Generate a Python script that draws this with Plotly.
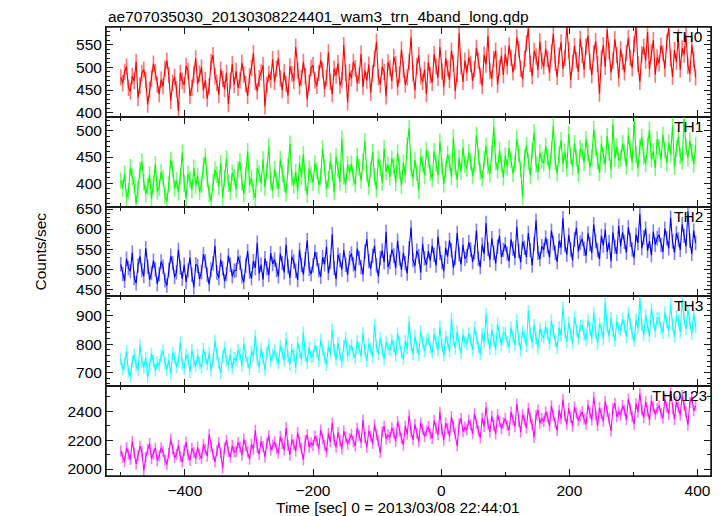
import plotly.graph_objects as go
from plotly.subplots import make_subplots

title_text = "ae707035030_20130308224401_wam3_trn_4band_long.qdp"
x_title = "Time [sec] 0 = 2013/03/08 22:44:01"
y_title = "Counts/sec"
band_names = ["TH0", "TH1", "TH2", "TH3", "TH0123"]
band_colors = ["#ff0000", "#00ff00", "#0000ff", "#00ffff", "#ff00ff"]
err_colors = ["rgba(255,0,0,0.55)", "rgba(0,255,0,0.55)", "rgba(0,0,255,0.5)",
              "rgba(0,255,255,0.55)", "rgba(255,0,255,0.55)"]

# bin start times (3 s bins)
time_sec = list(range(-500, 400, 3))

th0 = [
    478, 465, 490, 502, 455, 447, 481, 470, 512, 433, 460, 488, 495, 472, 418, 451, 476, 508, 489, 462,
    441, 473, 458, 497, 515, 483, 426, 466, 479, 452, 404, 488, 470, 461, 503, 492, 437, 455, 484, 520,
    463, 486, 500, 449, 472, 431, 458, 512, 527, 480, 466, 440, 495, 474, 452, 488, 419, 470, 507, 461,
    492, 455, 471, 510, 484, 463, 437, 480, 499, 531, 468, 447, 476, 489, 505, 414, 462, 485, 473, 518,
    468, 497, 521, 476, 450, 489, 463, 438, 502, 485, 470, 545, 493, 458, 477, 512, 481, 430, 466, 499,
    505, 471, 459, 488, 516, 494, 452, 476, 533, 468, 441, 497, 482, 509, 460, 472, 549, 488, 423, 490,
    476, 512, 498, 465, 482, 530, 457, 493, 471, 506, 444, 487, 519, 556, 478, 462, 501, 490, 436, 511,
    498, 470, 523, 507, 456, 484, 539, 495, 462, 478, 512, 566, 487, 449, 503, 527, 481, 468, 495, 441,
    511, 483, 466, 529, 502, 477, 545, 491, 456, 520, 498, 472, 537, 509, 448, 486, 575, 503, 468, 515,
    488, 522, 507, 470, 496, 543, 515, 481, 459, 528, 506, 569, 492, 475, 518, 537, 462, 499, 526, 483,
    530, 503, 548, 521, 489, 512, 566, 540, 497, 474, 519, 553, 586, 508, 481, 536, 524, 495, 557, 514,
    502, 541, 519, 488, 533, 574, 510, 479, 526, 555, 497, 521, 593, 538, 472, 509, 547, 516, 490, 563,
    527, 495, 546, 570, 512, 483, 531, 558, 507, 442, 520, 549, 501, 583, 536, 489, 515, 562, 527, 476,
    540, 512, 489, 532, 565, 521, 498, 551, 590, 507, 468, 529, 545, 515, 578, 496, 533, 560, 484, 522,
    509, 548, 531, 497, 556, 587, 520, 479, 538, 512, 566, 495, 542, 528, 571, 503, 486, 549, 517, 478,
]

th1 = [
    405, 390, 418, 372, 384, 430, 412, 396, 361, 388, 425, 441, 402, 379, 394, 416, 370, 399, 436, 384,
    392, 421, 409, 376, 365, 398, 444, 427, 390, 405, 382, 413, 458, 399, 371, 418, 406, 387, 429, 395,
    414, 383, 397, 433, 451, 408, 380, 366, 402, 425, 416, 393, 438, 372, 409, 447, 399, 384, 420, 411,
    388, 426, 441, 402, 379, 415, 461, 397, 410, 383, 372, 429, 418, 400, 445, 392, 424, 470, 403, 386,
    427, 404, 389, 446, 418, 399, 381, 432, 475, 410, 396, 421, 385, 438, 412, 455, 401, 378, 427, 416,
    401, 438, 424, 395, 412, 466, 430, 389, 407, 442, 419, 383, 451, 426, 402, 485, 413, 397, 436, 420,
    437, 411, 398, 452, 430, 405, 441, 480, 418, 393, 426, 459, 412, 388, 447, 429, 401, 466, 422, 435,
    412, 447, 433, 401, 458, 424, 395, 439, 416, 472, 505, 428, 409, 444, 420, 386, 451, 437, 415, 463,
    446, 420, 408, 461, 438, 415, 479, 432, 398, 427, 455, 440, 412, 487, 431, 406, 448, 422, 468, 435,
    428, 459, 441, 414, 436, 492, 450, 422, 409, 446, 471, 433, 418, 457, 508, 440, 425, 463, 437, 411,
    452, 430, 467, 445, 418, 438, 485, 456, 427, 374, 449, 472, 441, 415, 462, 497, 436, 421, 458, 444,
    438, 471, 449, 425, 463, 510, 441, 419, 455, 482, 437, 460, 428, 494, 452, 431, 476, 448, 418, 466,
    461, 439, 484, 457, 430, 449, 503, 468, 442, 420, 475, 451, 436, 490, 459, 425, 512, 447, 470, 443,
    447, 476, 458, 432, 491, 464, 440, 519, 455, 428, 469, 488, 451, 437, 473, 502, 446, 461, 429, 484,
    469, 445, 492, 463, 438, 477, 456, 510, 432, 466, 488, 452, 441, 522, 470, 448, 481, 459, 436, 473,
]

th2 = [
    512, 488, 471, 526, 503, 495, 541, 478, 465, 509, 532, 497, 483, 552, 506, 474, 490, 521, 499, 463,
    487, 519, 506, 472, 459, 498, 533, 515, 480, 492, 548, 504, 476, 511, 468, 497, 529, 486, 455, 512,
    508, 475, 493, 537, 520, 486, 462, 499, 514, 558, 491, 478, 523, 502, 470, 488, 534, 511, 482, 496,
    497, 531, 516, 482, 468, 509, 545, 494, 477, 520, 503, 566, 489, 511, 474, 527, 502, 485, 540, 513,
    524, 498, 482, 539, 515, 492, 561, 507, 478, 531, 519, 496, 473, 548, 510, 487, 525, 572, 501, 488,
    509, 543, 525, 497, 481, 530, 512, 556, 490, 518, 587, 503, 475, 536, 522, 499, 547, 511, 486, 528,
    539, 512, 496, 551, 528, 505, 487, 544, 575, 520, 501, 533, 558, 509, 482, 527, 546, 517, 593, 505,
    518, 549, 534, 503, 571, 527, 498, 541, 515, 489, 552, 604, 522, 508, 546, 532, 491, 563, 527, 511,
    545, 521, 558, 536, 509, 581, 540, 518, 495, 553, 531, 572, 547, 503, 528, 590, 537, 512, 561, 526,
    533, 567, 549, 518, 542, 596, 526, 505, 561, 538, 615, 550, 523, 577, 541, 514, 556, 583, 530, 548,
    562, 539, 520, 574, 551, 528, 606, 545, 517, 569, 553, 530, 590, 548, 509, 563, 621, 541, 525, 557,
    548, 579, 557, 530, 596, 565, 541, 518, 571, 554, 627, 560, 536, 585, 549, 522, 574, 603, 544, 566,
    575, 551, 533, 589, 562, 540, 612, 570, 547, 525, 583, 559, 598, 543, 567, 520, 591, 556, 538, 608,
    557, 592, 568, 541, 604, 573, 549, 528, 586, 565, 638, 552, 579, 601, 546, 570, 535, 594, 561, 577,
    586, 560, 543, 601, 577, 552, 628, 569, 541, 590, 574, 548, 612, 583, 557, 644, 571, 538, 596, 565,
]

th3 = [
    748, 712, 731, 775, 702, 688, 740, 763, 725, 710, 796, 738, 719, 752, 684, 729, 766, 741, 707, 735,
    726, 759, 778, 734, 711, 745, 695, 769, 752, 720, 741, 806, 730, 714, 763, 748, 702, 780, 739, 723,
    761, 733, 718, 784, 752, 729, 770, 707, 745, 812, 766, 735, 698, 757, 789, 742, 726, 764, 716, 751,
    742, 779, 765, 724, 801, 758, 737, 713, 774, 760, 829, 746, 721, 785, 752, 709, 770, 798, 740, 763,
    778, 750, 733, 795, 768, 744, 821, 757, 729, 781, 762, 718, 806, 773, 747, 842, 761, 735, 788, 755,
    759, 796, 774, 742, 815, 781, 753, 728, 792, 768, 851, 779, 746, 805, 764, 737, 794, 823, 760, 777,
    797, 768, 751, 812, 786, 760, 839, 775, 742, 801, 784, 756, 868, 793, 766, 821, 779, 748, 809, 785,
    780, 816, 793, 759, 838, 802, 771, 748, 812, 786, 879, 798, 765, 828, 791, 762, 846, 806, 776, 814,
    819, 788, 771, 836, 806, 779, 862, 797, 760, 826, 808, 775, 890, 817, 786, 845, 801, 768, 834, 809,
    801, 838, 814, 780, 859, 822, 790, 766, 835, 808, 905, 819, 785, 851, 813, 782, 872, 826, 796, 840,
    840, 808, 791, 858, 827, 798, 885, 817, 779, 846, 829, 795, 917, 838, 806, 867, 822, 787, 855, 830,
    824, 862, 837, 801, 883, 846, 812, 788, 859, 831, 930, 843, 808, 876, 837, 804, 896, 849, 819, 865,
    866, 833, 815, 884, 852, 821, 912, 842, 803, 872, 855, 818, 948, 862, 829, 893, 847, 812, 881, 856,
    849, 889, 863, 826, 911, 872, 838, 812, 886, 857, 962, 869, 833, 903, 864, 829, 924, 876, 845, 893,
    893, 859, 841, 912, 879, 847, 941, 868, 828, 899, 882, 843, 957, 889, 855, 921, 874, 837, 908, 862,
]

th0123 = [
    2125, 2080, 2051, 2148, 2103, 2066, 2190, 2112, 2035, 2094, 2158, 2120, 1990, 2082, 2133, 2176, 2071, 2104, 2146, 2058,
    2090, 2147, 2122, 2063, 2031, 2110, 2205, 2138, 2079, 2101, 2164, 2085, 2049, 2128, 2186, 2097, 2060, 2143, 2115, 2072,
    2150, 2098, 2072, 2171, 2136, 2089, 2238, 2154, 2101, 2050, 2127, 2183, 2110, 2008, 2145, 2199, 2120, 2081, 2162, 2117,
    2121, 2184, 2153, 2096, 2205, 2160, 2118, 2067, 2172, 2137, 2268, 2149, 2102, 2190, 2155, 2083, 2178, 2230, 2131, 2166,
    2188, 2140, 2109, 2224, 2176, 2131, 2285, 2162, 2097, 2203, 2170, 2124, 2252, 2185, 2141, 2064, 2197, 2238, 2150, 2181,
    2163, 2229, 2196, 2138, 2270, 2210, 2164, 2118, 2245, 2188, 2317, 2201, 2150, 2253, 2193, 2139, 2262, 2222, 2172, 2209,
    2240, 2191, 2160, 2283, 2231, 2182, 2338, 2218, 2150, 2264, 2226, 2176, 2305, 2240, 2195, 2112, 2258, 2296, 2207, 2237,
    2218, 2284, 2251, 2190, 2327, 2262, 2213, 2166, 2296, 2240, 2370, 2255, 2201, 2309, 2247, 2189, 2318, 2275, 2225, 2262,
    2293, 2244, 2211, 2335, 2282, 2236, 2392, 2271, 2199, 2318, 2280, 2226, 2361, 2294, 2248, 2160, 2312, 2349, 2258, 2290,
    2270, 2338, 2305, 2243, 2382, 2316, 2265, 2214, 2351, 2294, 2425, 2310, 2256, 2364, 2301, 2242, 2374, 2330, 2279, 2318,
    2350, 2300, 2267, 2394, 2341, 2292, 2449, 2329, 2255, 2376, 2338, 2284, 2420, 2352, 2306, 2218, 2371, 2408, 2316, 2349,
    2326, 2393, 2361, 2298, 2437, 2370, 2318, 2265, 2406, 2348, 2478, 2364, 2310, 2419, 2356, 2296, 2428, 2385, 2333, 2372,
    2395, 2344, 2310, 2441, 2387, 2338, 2496, 2375, 2300, 2423, 2384, 2331, 2467, 2398, 2352, 2263, 2418, 2455, 2361, 2394,
    2371, 2438, 2406, 2341, 2482, 2415, 2362, 2310, 2451, 2393, 2521, 2408, 2355, 2464, 2400, 2339, 2473, 2430, 2378, 2417,
    2437, 2386, 2351, 2483, 2428, 2379, 2535, 2416, 2342, 2465, 2426, 2372, 2508, 2440, 2394, 2305, 2459, 2497, 2402, 2435,
]

series = [th0, th1, th2, th3, th0123]
band_errors = [18, 16, 18, 22, 38]
y_ranges = [[391, 589], [355, 527], [432, 656], [652, 969], [1952, 2572]]
y_major = [50, 50, 50, 100, 200]
y_minor = [10, 10, 10, 20, 100]
label_shift = [-6, -6, -6, -6, -2]
x_range = [-523, 421]

FONT = "Liberation Sans, Arial, Helvetica, sans-serif"
FS = 15.5
AX = "#1a1a1a"

fig = make_subplots(rows=5, cols=1, shared_xaxes=True, vertical_spacing=0)

for i, (vals, col, ecol, err) in enumerate(zip(series, band_colors, err_colors, band_errors)):
    fig.add_trace(go.Scatter(
        x=time_sec, y=vals, mode="lines",
        line=dict(color=col, width=1.1),
        error_y=dict(type="constant", value=err, color=ecol, thickness=1.6, width=0),
        showlegend=False, hoverinfo="skip"), row=i + 1, col=1)
    fig.update_yaxes(
        range=y_ranges[i], dtick=y_major[i], tick0=0,
        showline=True, linecolor=AX, linewidth=1, mirror="ticks",
        ticks="inside", ticklen=7, tickwidth=1, tickcolor=AX,
        minor=dict(ticks="inside", ticklen=4, dtick=y_minor[i], tick0=0, tickcolor=AX),
        showgrid=False, zeroline=False,
        tickfont=dict(family=FONT, size=FS, color="black"),
        row=i + 1, col=1)
    fig.update_xaxes(
        range=x_range, dtick=200, tick0=0,
        showline=True, linecolor=AX, linewidth=1, mirror="ticks",
        ticks="inside", ticklen=7, tickwidth=1, tickcolor=AX,
        minor=dict(ticks="inside", ticklen=4, dtick=100, tick0=0, tickcolor=AX),
        showgrid=False, zeroline=False,
        tickfont=dict(family=FONT, size=FS, color="black"),
        row=i + 1, col=1)

annotations = []
for i, name in enumerate(band_names):
    yref = "y domain" if i == 0 else f"y{i + 1} domain"
    annotations.append(dict(
        text=name, xref="paper", x=1, xanchor="right", xshift=label_shift[i],
        yref=yref, y=1, yanchor="top", yshift=1,
        showarrow=False, font=dict(family=FONT, size=FS, color="black")))

annotations.append(dict(text=title_text, xref="paper", x=0, xanchor="left",
                        yref="paper", y=1, yanchor="bottom", yshift=0,
                        showarrow=False, font=dict(family=FONT, size=FS, color="black")))
annotations.append(dict(text=x_title, xref="paper", x=0.482, xanchor="center",
                        yref="paper", y=0, yanchor="top", yshift=-21,
                        showarrow=False, font=dict(family=FONT, size=FS, color="black")))
annotations.append(dict(text=y_title, xref="paper", x=0, xanchor="center", xshift=-66,
                        yref="paper", y=0.5, yanchor="middle", textangle=-90,
                        showarrow=False, font=dict(family=FONT, size=FS, color="black")))

# the page body adds an 8 px margin at top-left, so the figure is sized to fit
fig.update_layout(
    width=716, height=508,
    margin=dict(l=98, r=13, t=19, b=40),
    paper_bgcolor="white", plot_bgcolor="white",
    annotations=annotations,
    shapes=[dict(type="rect", xref="paper", yref="paper", x0=0, x1=1, y0=0, y1=1,
                 line=dict(color=AX, width=1.5), layer="above")],
    showlegend=False,
)

fig.write_html("out.html")
